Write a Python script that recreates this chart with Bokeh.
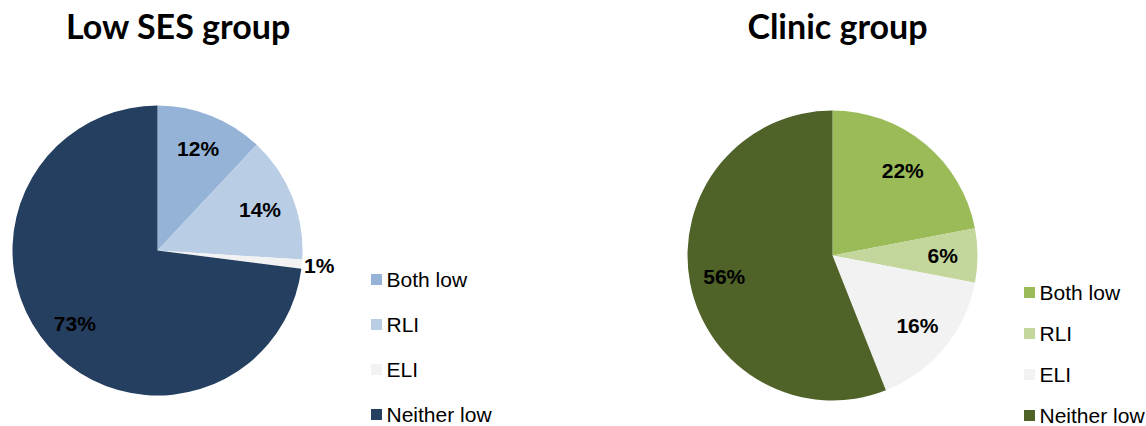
import math
from bokeh.plotting import figure
from bokeh.models import Range1d, ColumnDataSource
from bokeh.core.properties import value
from bokeh.embed import file_html
from bokeh.resources import INLINE

# ---- data ----
categories = ["Both low", "RLI", "ELI", "Neither low"]
low_ses_pct = [12, 14, 1, 73]
clinic_pct = [22, 6, 16, 56]
low_ses_colors = ["#95B3D7", "#B9CDE5", "#F2F2F2", "#253F60"]
clinic_colors = ["#9BBB59", "#C3D69B", "#F2F2F2", "#4F6228"]
titles = ["Low SES group", "Clinic group"]

W, H = 1146, 426
p = figure(width=W, height=H, output_backend="svg", toolbar_location=None,
           x_range=Range1d(0, W), y_range=Range1d(0, H),
           min_border=0, min_border_left=0, min_border_right=0,
           min_border_top=0, min_border_bottom=0)
p.axis.visible = False
p.xgrid.visible = False
p.ygrid.visible = False
p.outline_line_color = None
p.background_fill_color = "white"
p.border_fill_color = "white"

def sy(y):  # screen y -> data y
    return 426 - y

R = 145
pies = [
    dict(pct=low_ses_pct, colors=low_ses_colors, cx=157, cy=250, title=titles[0], tx=178,
         lx=376, ly0=279, ldy=45),
    dict(pct=clinic_pct, colors=clinic_colors, cx=832, cy=255, title=titles[1], tx=837,
         lx=1029, ly0=292, ldy=41),
]

for pie in pies:
    vals = pie["pct"]
    total = float(sum(vals))
    starts, ends, lx, ly, labels = [], [], [], [], []
    cum = 0.0
    for v in vals:
        a0 = math.pi / 2 - 2 * math.pi * cum / total
        a1 = math.pi / 2 - 2 * math.pi * (cum + v) / total
        starts.append(a0)
        ends.append(a1)
        mid = (a0 + a1) / 2
        rr = R * (1.12 if v < 3 else 0.76)
        lx.append(pie["cx"] + rr * math.cos(mid))
        ly.append(sy(pie["cy"]) + rr * math.sin(mid))
        labels.append(f"{v}%")
        cum += v
    src = ColumnDataSource(dict(start=starts, end=ends, color=pie["colors"],
                                lx=lx, ly=ly, label=labels))
    p.wedge(x=pie["cx"], y=sy(pie["cy"]), radius=R, start_angle="start", end_angle="end",
            direction="clock", fill_color="color", line_color=None, source=src)
    p.text(x="lx", y="ly", text="label", source=src, text_align="center",
           text_baseline="middle", text_font=value("Liberation Sans"),
           text_font_style="bold", text_font_size="21px", text_color="black")
    # title
    p.text(x=[pie["tx"]], y=[sy(25)], text=[pie["title"]], text_align="center",
           text_baseline="middle", text_font=value("Lato"), text_font_style="bold",
           text_font_size="34px", text_color="black")
    # legend
    ys = [sy(pie["ly0"] + i * pie["ldy"]) for i in range(len(categories))]
    lsrc = ColumnDataSource(dict(x=[pie["lx"]] * len(categories), y=ys,
                                 tx=[pie["lx"] + 10] * len(categories),
                                 color=pie["colors"], cat=categories))
    p.rect(x="x", y="y", width=11, height=11, fill_color="color", line_color=None,
           source=lsrc)
    p.text(x="tx", y="y", text="cat", source=lsrc, text_align="left",
           text_baseline="middle", text_font=value("Liberation Sans"),
           text_font_size="21px", text_color="black")

open("out.html", "w").write(file_html(p, INLINE))
